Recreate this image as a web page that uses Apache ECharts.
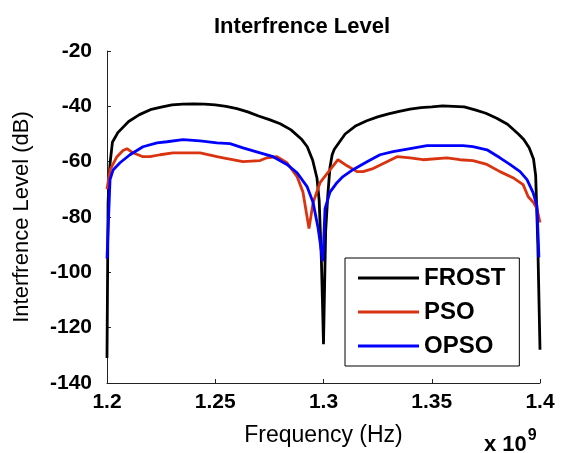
<!DOCTYPE html>
<html>
<head>
<meta charset="utf-8">
<script src="https://cdn.jsdelivr.net/npm/echarts@6/dist/echarts.min.js"></script>
<style>html,body{margin:0;padding:0;background:#fff;}#c{width:565px;height:453px;}</style>
</head>
<body>
<div id="c"></div>
<script>
// Frequency in units of 1e9 Hz
const frostFreq = [1.2, 1.2005, 1.201, 1.2015, 1.2025, 1.205, 1.21, 1.215, 1.22, 1.225, 1.23, 1.235, 1.24, 1.245, 1.25, 1.255, 1.26, 1.265, 1.27, 1.275, 1.28, 1.285, 1.29, 1.2925, 1.295, 1.297, 1.298, 1.299, 1.2995, 1.3, 1.3005, 1.301, 1.302, 1.303, 1.304, 1.305, 1.31, 1.315, 1.32, 1.325, 1.33, 1.335, 1.34, 1.345, 1.35, 1.355, 1.36, 1.365, 1.37, 1.375, 1.38, 1.385, 1.39, 1.3925, 1.395, 1.397, 1.398, 1.399, 1.4];
const frostVal = [-131, -75, -65, -60, -53, -49.5, -45.5, -43, -41.2, -40.3, -39.5, -39.2, -39.1, -39.2, -39.5, -40, -40.8, -42, -43.5, -44.8, -46.3, -48.5, -52, -54.6, -59.5, -66, -74, -95, -110, -126, -105, -85, -72, -62, -57.5, -55.5, -50, -47, -45.2, -43.8, -42.7, -41.8, -41, -40.5, -40.2, -39.8, -40, -40.2, -41.3, -42.5, -44.3, -46.5, -50, -52, -55, -59, -65, -90, -128];

const psoFreq = [1.2, 1.2014, 1.2046, 1.2074, 1.2092, 1.212, 1.2166, 1.2199, 1.2245, 1.2305, 1.243, 1.2508, 1.2536, 1.2628, 1.2707, 1.2739, 1.2785, 1.2831, 1.2878, 1.2905, 1.2933, 1.2952, 1.2984, 1.303, 1.3067, 1.3109, 1.3155, 1.3182, 1.3229, 1.3293, 1.334, 1.34, 1.346, 1.357, 1.363, 1.369, 1.3755, 1.3815, 1.3875, 1.3922, 1.3945, 1.397, 1.3986, 1.4];
const psoVal = [-70, -63, -58.2, -56, -55.3, -56.8, -58.2, -58.2, -57.5, -56.8, -56.8, -58.2, -58.6, -60, -59.6, -58.6, -58.2, -60.4, -65.4, -71, -84.2, -74.8, -67.6, -63, -59.3, -61.5, -63.6, -63.6, -62.5, -60, -58.2, -58.6, -59.3, -58.6, -59.3, -59.6, -61, -63.6, -65.8, -68.3, -72.6, -74.8, -77, -82];

const opsoFreq = [1.2, 1.2014, 1.2028, 1.206, 1.2106, 1.2166, 1.2231, 1.2277, 1.2351, 1.243, 1.2508, 1.2568, 1.2628, 1.2707, 1.2767, 1.2831, 1.2878, 1.2924, 1.2952, 1.2975, 1.2997, 1.3007, 1.303, 1.3062, 1.309, 1.3136, 1.3201, 1.3261, 1.3321, 1.34, 1.3478, 1.3644, 1.369, 1.3755, 1.3815, 1.3861, 1.3908, 1.394, 1.3968, 1.3986, 1.3995];
const opsoVal = [-95, -66.5, -63, -60.4, -57.5, -54.6, -53.2, -52.8, -52, -52.5, -53.2, -53.5, -55, -56.8, -58.2, -61, -64, -69, -74.8, -84, -96, -77, -71, -67.6, -65.4, -62.9, -60, -57.5, -56.4, -55.3, -54.2, -54.2, -54.6, -55.7, -58.6, -61, -63.6, -66.5, -71.2, -76, -94.6];

const xTicks = ['1.2', '1.25', '1.3', '1.35', '1.4'];
const yTicks = ['-140', '-120', '-100', '-80', '-60', '-40', '-20'];
const seriesNames = ['FROST', 'PSO', 'OPSO'];

function pairs(xs, ys) { return xs.map((x, i) => [x, ys[i]]); }

const FONT = 'Liberation Sans, Arial, sans-serif';
const chart = echarts.init(document.getElementById('c'), null, {renderer: 'canvas'});
chart.setOption({
  animation: false,
  backgroundColor: '#fff',
  title: {
    text: 'Interfrence Level',
    left: 209, top: 11,
    textStyle: {fontFamily: FONT, fontSize: 22, fontWeight: 'bold', color: '#000'}
  },
  grid: {left: 107, right: 25, top: 51, bottom: 70, containLabel: false},
  legend: {
    orient: 'vertical', left: 345, top: 258,
    data: seriesNames,
    icon: 'rect', itemWidth: 61, itemHeight: 3, itemGap: 10,
    padding: [8, 14, 8, 13],
    borderColor: '#000', borderWidth: 1, backgroundColor: '#fff',
    textStyle: {fontFamily: FONT, fontSize: 24, fontWeight: 'bold', color: '#000', lineHeight: 24}
  },
  xAxis: {
    type: 'value', min: 1.2, max: 1.4, interval: 0.05,
    name: 'Frequency (Hz)', nameLocation: 'middle', nameGap: 41,
    nameTextStyle: {fontFamily: FONT, fontSize: 23, color: '#000'},
    axisLine: {show: true, onZero: false, lineStyle: {color: '#222', width: 1}},
    axisTick: {show: true, inside: true, length: 4, lineStyle: {color: '#222'}},
    splitLine: {show: false},
    axisLabel: {
      margin: 9, fontFamily: FONT, fontSize: 21, fontWeight: 'bold', color: '#000',
      formatter: v => xTicks[Math.round((v - 1.2) / 0.05)]
    }
  },
  yAxis: {
    type: 'value', min: -140, max: -20, interval: 20,
    name: 'Interfrence Level (dB)', nameLocation: 'middle', nameGap: 74, nameRotate: 90,
    nameTextStyle: {fontFamily: FONT, fontSize: 22, color: '#000'},
    axisLine: {show: true, onZero: false, lineStyle: {color: '#222', width: 1}},
    axisTick: {show: true, inside: true, length: 4, lineStyle: {color: '#222'}},
    splitLine: {show: false},
    axisLabel: {
      margin: 15, fontFamily: FONT, fontSize: 21, fontWeight: 'bold', color: '#000',
      formatter: v => yTicks[Math.round((v + 140) / 20)]
    }
  },
  graphic: [{
    type: 'text', left: 484, top: 428,
    style: {
      text: '{a|x 10}{b|9}',
      rich: {
        a: {fontFamily: FONT, fontSize: 22, fontWeight: 'bold', fill: '#000', verticalAlign: 'bottom', lineHeight: 28},
        b: {fontFamily: FONT, fontSize: 16, fontWeight: 'bold', fill: '#000', verticalAlign: 'top', lineHeight: 28, padding: [0, 0, 14, 1]}
      }
    }
  }],
  series: [
    {name: 'FROST', type: 'line', data: pairs(frostFreq, frostVal), showSymbol: false, symbol: 'none',
     lineStyle: {color: '#000', width: 2.8}, itemStyle: {color: '#000'}},
    {name: 'PSO', type: 'line', data: pairs(psoFreq, psoVal), showSymbol: false, symbol: 'none',
     lineStyle: {color: '#DA3310', width: 2.8}, itemStyle: {color: '#DA3310'}},
    {name: 'OPSO', type: 'line', data: pairs(opsoFreq, opsoVal), showSymbol: false, symbol: 'none',
     lineStyle: {color: '#0000FF', width: 2.8}, itemStyle: {color: '#0000FF'}}
  ]
});
</script>
</body>
</html>
